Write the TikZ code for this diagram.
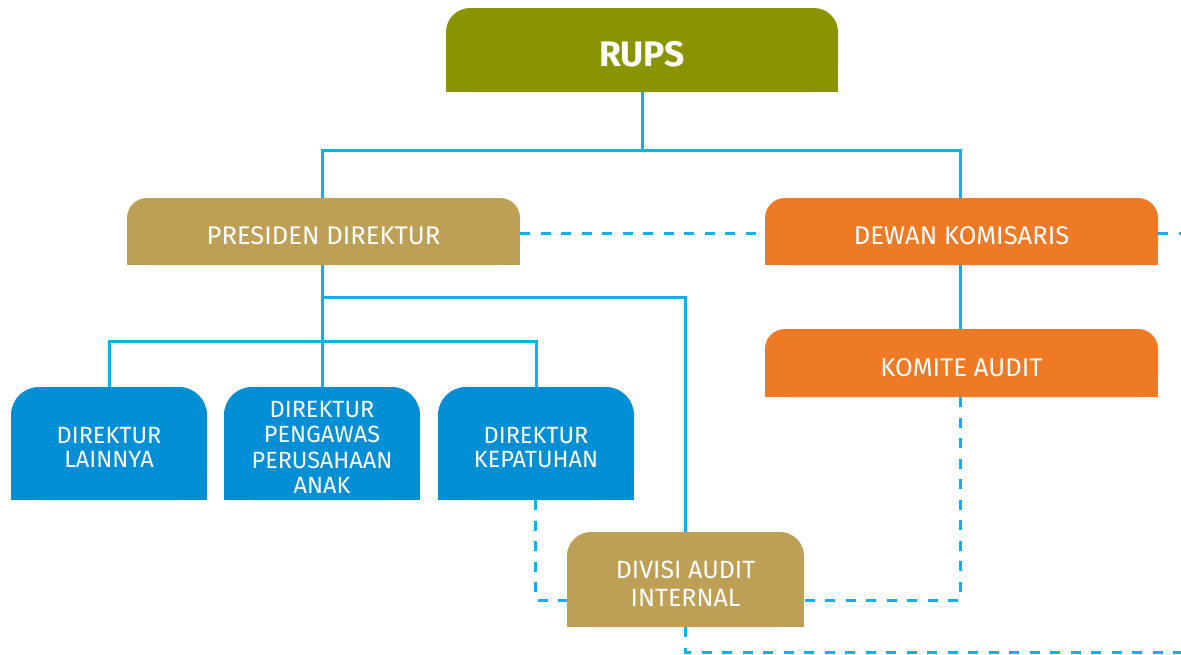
\documentclass[tikz,border=0pt]{standalone}
\usepackage{fontspec}
\setmainfont{Fira Sans}
\usetikzlibrary{backgrounds,calc}

\definecolor{olive}{HTML}{8A9400}
\definecolor{gold}{HTML}{BDA056}
\definecolor{orangebox}{HTML}{EE7A26}
\definecolor{bluebox}{HTML}{008FD5}
\definecolor{link}{HTML}{0CB0EC}

% box filled with rounded top corners and square bottom corners
\newcommand\tabfill[3]{%
  \fill[#2, rounded corners=#3] (#1.north west) rectangle (#1.south east);
  \fill[#2] (#1.west) rectangle (#1.south east);
}

\tikzset{
  tab/.style={inner sep=0pt, outer sep=0pt, minimum width=#1},
  boxtext/.style={text=white, align=center, yshift=-4pt},
  solidlink/.style={draw=link, line width=3pt},
  dashlink/.style={draw=link, line width=3pt, dash pattern=on 10pt off 10.5pt},
}

\begin{document}
\begin{tikzpicture}[x=1pt, y=-1pt]
\useasboundingbox (0,0) rectangle (1181,654);

% boxes
\node[tab=392, minimum height=84,
      label={[boxtext, font=\fontsize{35.5}{40}\selectfont\bfseries]center:RUPS}]
      (rups) at (642,50) {};
\node[tab=393, minimum height=67,
      label={[boxtext, font=\fontsize{25.6}{28}\selectfont]center:PRESIDEN DIREKTUR}]
      (pd) at (323.5,231.5) {};
\node[tab=393, minimum height=67,
      label={[boxtext, font=\fontsize{25.6}{28}\selectfont]center:DEWAN KOMISARIS}]
      (dk) at (961.5,231.5) {};
\node[tab=393, minimum height=68,
      label={[boxtext, font=\fontsize{25.6}{28}\selectfont, yshift=-0.5pt]center:KOMITE AUDIT}]
      (ka) at (961.5,363) {};
\node[tab=196, minimum height=113,
      label={[boxtext, font=\fontsize{23.5}{24}\selectfont]center:DIREKTUR\\LAINNYA}]
      (b1) at (109,443.5) {};
\node[tab=196, minimum height=113,
      label={[boxtext, font=\fontsize{23.5}{25.5}\selectfont]center:DIREKTUR\\PENGAWAS\\PERUSAHAAN\\ANAK}]
      (b2) at (322,443.5) {};
\node[tab=196, minimum height=113,
      label={[boxtext, font=\fontsize{23.5}{24}\selectfont]center:DIREKTUR\\KEPATUHAN}]
      (b3) at (536,443.5) {};
\node[tab=237, minimum height=95,
      label={[boxtext, font=\fontsize{25}{28}\selectfont]center:DIVISI AUDIT\\INTERNAL}]
      (dai) at (685.5,579.5) {};

\coordinate (edgeR) at (1181,0);
\coordinate (edgeB) at (1181,652);

\begin{scope}[on background layer]
  \tabfill{rups}{olive}{24}
  \tabfill{pd}{gold}{20}
  \tabfill{dk}{orangebox}{20}
  \tabfill{ka}{orangebox}{20}
  \tabfill{b1}{bluebox}{28}
  \tabfill{b2}{bluebox}{28}
  \tabfill{b3}{bluebox}{28}
  \tabfill{dai}{gold}{24}
\end{scope}

% solid reporting lines
\draw[solidlink] (rups.south) -- ++(0,58) coordinate (top);
\draw[solidlink] (b2.north |- pd.north) |- (top) -| (dk.north -| 960,0);
\draw[solidlink] (dk.south -| 960,0) -- (ka.north -| 960,0);
\draw[solidlink] (b2.north) -- (b2.north |- pd.south);
\draw[solidlink] (b2.north |- 0,297) -| (dai.north);
\draw[solidlink] (b1.north) -- ++(0,-46) -| (b3.north);

% dashed coordination lines
\draw[dashlink] ($(pd.east)+(0,1.5)$) -- ($(dk.west)+(0,1.5)$);
\draw[dashlink] ($(dk.east)+(0,1.5)$) -- ($(dk.east -| edgeR)+(0,1.5)$);
\draw[dashlink] (ka.south -| 960,0) |- ($(dai.east)+(0,20.5)$);
\draw[dashlink] (b3.south -| 535,0) |- ($(dai.west)+(0,20.5)$);
\draw[dashlink] (dai.south) |- (edgeB);
\end{tikzpicture}
\end{document}
